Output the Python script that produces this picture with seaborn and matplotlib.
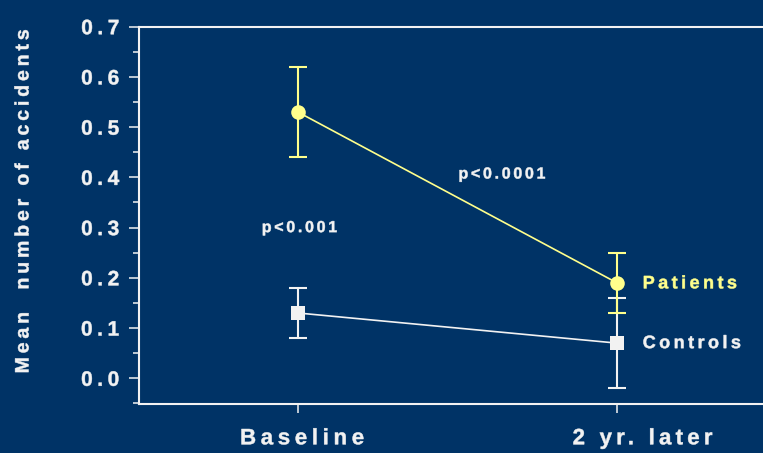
import matplotlib
matplotlib.use("Agg")
import matplotlib.pyplot as plt
from matplotlib.patheffects import AbstractPathEffect
from matplotlib.path import Path
import seaborn as sns
import pandas as pd
import numpy as np

# Data
timepoints = ["Baseline", "2 yr. later"]
patients_mean = [0.53, 0.19]
patients_low = [0.44, 0.13]
patients_high = [0.62, 0.25]
controls_mean = [0.13, 0.07]
controls_low = [0.08, -0.02]
controls_high = [0.18, 0.16]
y_ticks = [0.0, 0.1, 0.2, 0.3, 0.4, 0.5, 0.6, 0.7]

BG = "#003366"
FG = "#F2F2F2"
YEL = "#FFFF8C"


class Tracking(AbstractPathEffect):
    """Letter-spacing for text drawn as paths (spacing given in em),
    with an optional thin outline to make the glyphs heavier."""

    def __init__(self, em, align=0.0, text=None, offset=(0, 0), stroke=0.35):
        super().__init__(offset=offset)
        self.em = em
        self.align = align
        self.text = text
        self.stroke = stroke

    def draw_path(self, renderer, gc, tpath, affine, rgbFace=None):
        codes = tpath.codes
        affine = affine + self._offset_transform(renderer)
        if codes is None or len(tpath.vertices) == 0:
            renderer.draw_path(gc, tpath, affine, rgbFace)
            return
        verts = tpath.vertices.copy()
        starts = list(np.flatnonzero(codes == Path.MOVETO)) + [len(verts)]
        groups = []
        for a, b in zip(starts[:-1], starts[1:]):
            m = (codes[a:b] != Path.CLOSEPOLY) & (codes[a:b] != Path.STOP)
            xs = verts[a:b][m, 0]
            if len(xs) == 0:
                continue
            x0, x1 = xs.min(), xs.max()
            if groups:
                g = groups[-1]
                ov = min(x1, g[1]) - max(x0, g[0])
                if ov > 0.5 * max(min(x1 - x0, g[1] - g[0]), 1e-9):
                    g[0], g[1] = min(g[0], x0), max(g[1], x1)
                    g[2].append((a, b))
                    continue
            groups.append([x0, x1, [(a, b)]])
        if self.text is not None:
            chars = [i for i, c in enumerate(self.text) if not c.isspace()]
        else:
            chars = []
        if len(chars) == len(groups) and chars:
            idx = chars
            n_total = len(self.text) - 1
        else:
            idx = list(range(len(groups)))
            n_total = max(len(groups) - 1, 0)
        step = self.em * 100.0  # text paths are laid out at FONT_SCALE=100
        for k, g in zip(idx, groups):
            shift = (k - self.align * n_total) * step
            for a, b in g[2]:
                verts[a:b, 0] += shift
        gc0 = renderer.new_gc()
        gc0.copy_properties(gc)
        if self.stroke and rgbFace is not None:
            gc0.set_linewidth(self.stroke)
            gc0.set_foreground(rgbFace)
            gc0.set_joinstyle("round")
        renderer.draw_path(gc0, Path(verts, codes), affine, rgbFace)
        gc0.restore()


sns.set_theme(style="ticks")
plt.rcParams["font.family"] = ["Liberation Sans", "DejaVu Sans"]
plt.rcParams["font.weight"] = "bold"

df = pd.DataFrame({
    "x": list(range(len(timepoints))) * 2,
    "mean": patients_mean + controls_mean,
    "low": patients_low + controls_low,
    "high": patients_high + controls_high,
    "group": ["Patients"] * 2 + ["Controls"] * 2,
})

W, H = 763, 453
PX = 0.72  # points per pixel at 100 dpi
fig = plt.figure(figsize=(W / 100, H / 100), dpi=100, facecolor=BG)
ax_left, ax_bottom, ax_top = 139, 404, 26.7
ax = fig.add_axes([ax_left / W, 1 - ax_bottom / H, 1 - ax_left / W,
                   (ax_bottom - ax_top) / H])
ax.set_facecolor(BG)

styles = {"Controls": (FG, "s", 9.5), "Patients": (YEL, "o", 10.5)}
for grp in ["Controls", "Patients"]:
    sub = df[df["group"] == grp]
    color, marker, ms = styles[grp]
    ax.errorbar(sub["x"], sub["mean"],
                yerr=[sub["mean"] - sub["low"], sub["high"] - sub["mean"]],
                fmt="none", ecolor=color, elinewidth=1.5, capsize=6.6,
                capthick=1.5, zorder=2)
    sns.lineplot(data=sub, x="x", y="mean", ax=ax, color=color, lw=1.2,
                 marker=marker, markersize=ms, markeredgewidth=0,
                 legend=False, zorder=3)

ax.set_xlim(-0.4984, 1.4577)
ax.set_ylim(-0.0512, 0.70)
ax.set_xticks(range(len(timepoints)))
xlabels = ax.set_xticklabels(timepoints)
ax.set_yticks(y_ticks)
ylabels = ax.set_yticklabels([f"{v:.1f}" for v in y_ticks])
ax.set_yticks(np.arange(-0.05, 0.7, 0.1), minor=True)

for side in ["left", "bottom", "top"]:
    ax.spines[side].set_color(FG)
    ax.spines[side].set_linewidth(1.5)
ax.spines["right"].set_visible(False)

ax.tick_params(axis="y", which="major", colors=FG, length=7.2, width=1.1,
               labelsize=15, pad=7)
ax.tick_params(axis="y", which="minor", colors=FG, length=4.5, width=1.1)
ax.tick_params(axis="x", colors=FG, length=6.5, width=1.1, labelsize=16,
               pad=11)
x_label_style = [(0.21, 4), (0.19, 25.5)]  # (spacing em, shift px)
for lab, (em, dx) in zip(xlabels, x_label_style):
    lab.set_fontweight("bold")
    lab.set_color(FG)
    lab.set_path_effects([Tracking(em, 0.5, lab.get_text(),
                                   offset=(dx * PX, 0))])
for lab in ylabels:
    lab.set_fontweight("bold")
    lab.set_color(FG)
    lab.set_path_effects([Tracking(0.22, 1.0, lab.get_text())])

ax.set_xlabel("")
ylab_text = "Mean  number of accidents"
ax.set_ylabel(ylab_text, color=FG, fontsize=14, fontweight="bold")
ax.yaxis.set_label_coords((24 - ax_left) / (W - ax_left),
                          (ax_bottom - 201) / (ax_bottom - ax_top))
ax.yaxis.label.set_va("center")
ax.yaxis.label.set_path_effects([Tracking(0.2, 0.5, ylab_text)])

notes = [
    (0.0047, 0.300, "p<0.001", FG, 11.5, "center", 0.17),
    (0.6395, 0.4067, "p<0.0001", FG, 11.5, "center", 0.17),
    (1.0806, 0.188, "Patients", YEL, 13, "left", 0.19),
    (1.0806, 0.069, "Controls", FG, 13, "left", 0.19),
]
for x, y, s, c, fs, ha, em in notes:
    t = ax.text(x, y, s, color=c, fontsize=fs, fontweight="bold",
                ha=ha, va="center")
    t.set_path_effects([Tracking(em, 0.5 if ha == "center" else 0.0, s)])

fig.savefig("out.png", dpi=100, facecolor=BG)
